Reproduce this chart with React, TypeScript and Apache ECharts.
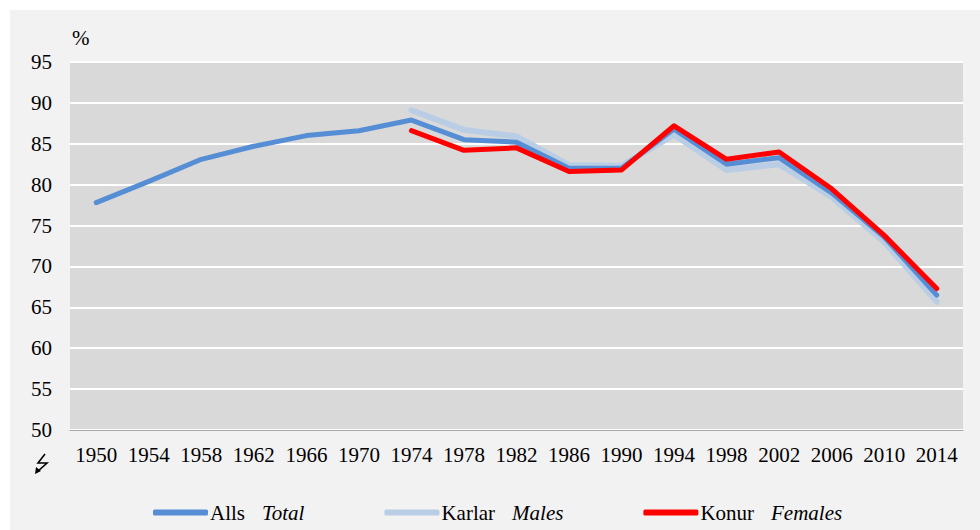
import React, { useEffect, useRef } from "react";
import * as echarts from "echarts";

const years = ["1950","1954","1958","1962","1966","1970","1974","1978","1982","1986","1990","1994","1998","2002","2006","2010","2014"];
const total = [77.8, 80.4, 83.1, 84.7, 86.0, 86.6, 87.9, 85.5, 85.2, 82.0, 82.0, 86.8, 82.5, 83.3, 79.0, 73.6, 66.5];
const males = [null, null, null, null, null, null, 89.1, 86.7, 85.9, 82.4, 82.3, 86.1, 81.8, 82.5, 78.5, 73.0, 65.7];
const females = [null, null, null, null, null, null, 86.6, 84.2, 84.5, 81.6, 81.8, 87.2, 83.1, 84.0, 79.5, 73.8, 67.3];

const FONT = "Liberation Serif";
const FS = 21;

export default function App() {
  const ref = useRef<HTMLDivElement>(null);
  useEffect(() => {
    if (!ref.current) return;
    const chart = echarts.init(ref.current, null, { renderer: "svg" });
    const rich = {
      a: { fontFamily: FONT, fontSize: FS, color: "#000" },
      b: { fontFamily: FONT, fontSize: FS, color: "#000", fontStyle: "italic", padding: [0, 0, 0, 17] },
    };
    chart.setOption({
      animation: false,
      backgroundColor: "#ffffff",
      textStyle: { fontFamily: FONT },
      graphic: [
        { type: "rect", z: -10, shape: { x: 10, y: 10, width: 970, height: 520 }, style: { fill: "#f2f2f2" } },
        { type: "text", left: 72, top: 27, style: { text: "%", font: `${FS}px ${FONT}`, fill: "#000" } },
        { type: "polyline", shape: { points: [[45, 454], [38, 463], [47, 463], [37, 472]] }, style: { stroke: "#000", lineWidth: 1.6, fill: null } },
        { type: "polygon", shape: { points: [[35, 474], [36, 467], [41, 471]] }, style: { fill: "#000" } },
      ],
      grid: { left: 70, right: 17, top: 62, bottom: 100, show: true, backgroundColor: "#d9d9d9", borderWidth: 0 },
      legend: {
        bottom: 2,
        left: 148,
        itemWidth: 55,
        itemHeight: 6,
        itemGap: 80,
        icon: "roundRect",
        data: ["Alls", "Karlar", "Konur"],
        formatter: (n: string) => {
          const m: Record<string, string> = { Alls: "Total", Karlar: "Males", Konur: "Females" };
          return `{a|${n}}{b|${m[n]}}`;
        },
        textStyle: { rich, padding: [0, 0, 0, -3] },
      },
      xAxis: {
        type: "category",
        data: years,
        boundaryGap: true,
        axisLine: { show: true, lineStyle: { color: "#a6a6a6", width: 1 } },
        axisTick: { show: false },
        axisLabel: { fontFamily: FONT, fontSize: FS, color: "#000", margin: 14, interval: 0 },
      },
      yAxis: {
        type: "value",
        min: 50,
        max: 95,
        interval: 5,
        axisLine: { show: false },
        axisTick: { show: false },
        splitLine: { lineStyle: { color: "#ffffff", width: 2 } },
        axisLabel: { fontFamily: FONT, fontSize: FS, color: "#000", margin: 18 },
      },
      series: [
        { name: "Alls", type: "line", data: total, z: 3, symbol: "none", lineStyle: { color: "#558ed5", width: 5, cap: "round", join: "round" }, itemStyle: { color: "#558ed5" } },
        { name: "Karlar", type: "line", data: males, z: 2, symbol: "none", lineStyle: { color: "#b9cde5", width: 6, cap: "round", join: "round" }, itemStyle: { color: "#b9cde5" } },
        { name: "Konur", type: "line", data: females, z: 4, symbol: "none", lineStyle: { color: "#ff0000", width: 5, cap: "round", join: "round" }, itemStyle: { color: "#ff0000" } },
      ],
    });
    return () => chart.dispose();
  }, []);
  return <div ref={ref} style={{ position: "fixed", left: 0, top: 0, width: 980, height: 530 }} />;
}
